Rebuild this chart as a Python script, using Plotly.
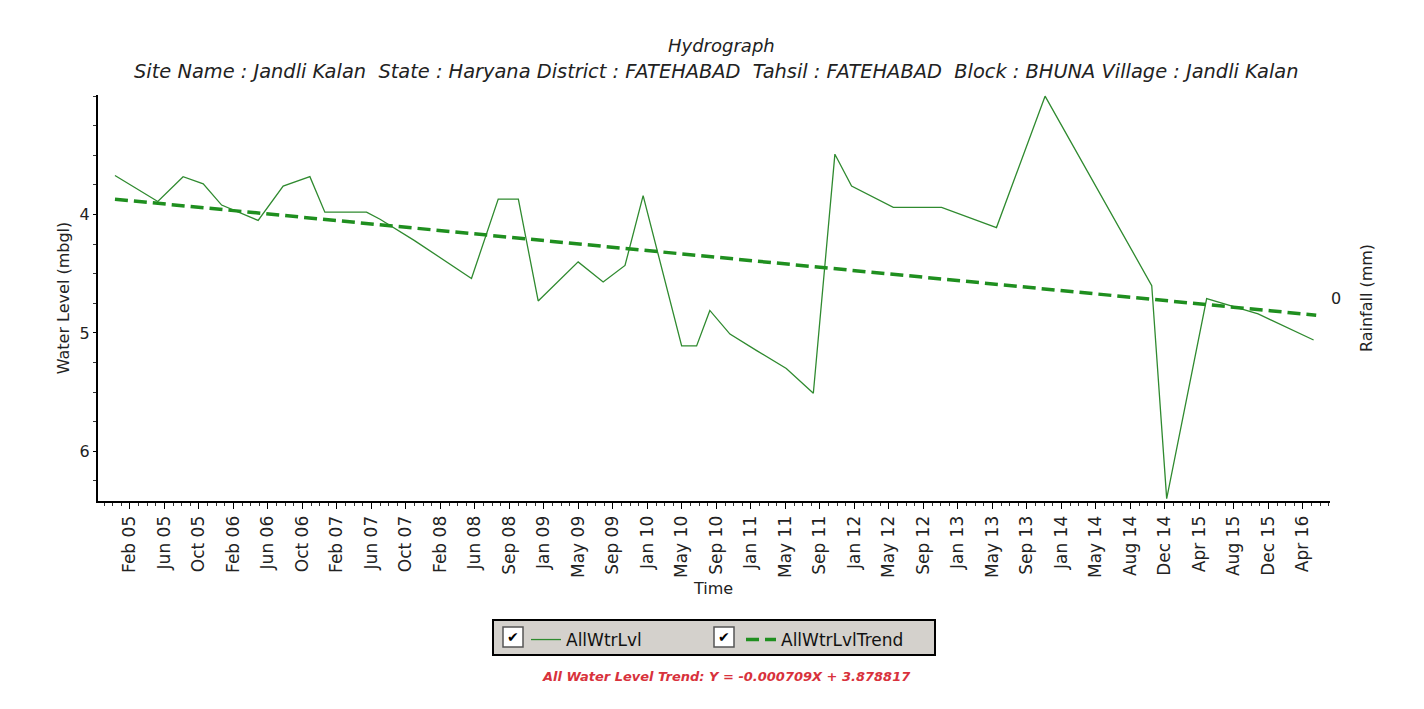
import plotly.graph_objects as go
import pandas as pd

# ---------------- data ----------------
dates = ['2004-12-27', '2005-05-25', '2005-08-21', '2005-10-30', '2006-01-02', '2006-05-09',
         '2006-08-04', '2006-11-05', '2006-12-27', '2007-05-21', '2007-07-07', '2007-11-04',
         '2008-05-20', '2008-08-21', '2008-10-30', '2009-01-07', '2009-05-26', '2009-08-21',
         '2009-11-05', '2010-01-07', '2010-05-21', '2010-07-12', '2010-08-27', '2010-11-05',
         '2011-02-06', '2011-05-20', '2011-08-22', '2011-11-05', '2012-01-02', '2012-03-17',
         '2012-05-26', '2012-08-09', '2012-11-10', '2013-05-20', '2013-11-05', '2014-11-11',
         '2015-01-02', '2015-05-21', '2015-11-16', '2016-05-27']
water_level = [3.67, 3.89, 3.68, 3.74, 3.92, 4.05,
               3.76, 3.68, 3.98, 3.98, 4.04, 4.22,
               4.54, 3.87, 3.87, 4.73, 4.40, 4.57,
               4.43, 3.84, 5.11, 5.11, 4.81, 5.01,
               5.15, 5.30, 5.51, 3.49, 3.76, 3.85,
               3.94, 3.94, 3.94, 4.11, 3.00, 4.60,
               6.40, 4.71, 4.84, 5.06]
trend_dates = ['2004-12-27', '2016-06-05']
trend_values = [3.87, 4.85]

tick_labels = ['Feb 05', 'Jun 05', 'Oct 05', 'Feb 06', 'Jun 06', 'Oct 06', 'Feb 07', 'Jun 07',
               'Oct 07', 'Feb 08', 'Jun 08', 'Sep 08', 'Jan 09', 'May 09', 'Sep 09', 'Jan 10',
               'May 10', 'Sep 10', 'Jan 11', 'May 11', 'Sep 11', 'Jan 12', 'May 12', 'Sep 12',
               'Jan 13', 'May 13', 'Sep 13', 'Jan 14', 'May 14', 'Aug 14', 'Dec 14', 'Apr 15',
               'Aug 15', 'Dec 15', 'Apr 16']
y_ticks = [4, 5, 6]

title_main = 'Hydrograph'
title_sub = ('Site Name : Jandli Kalan  State : Haryana District : FATEHABAD  '
             'Tahsil : FATEHABAD  Block : BHUNA Village : Jandli Kalan')
trend_text = 'All Water Level Trend: Y = -0.000709X + 3.878817'

# ---------------- layout helpers (page coordinates; page body has an 8px margin) ----------------
OFF = 8
W, H = 1424 - 2 * OFF, 709 - 2 * OFF
L, R, T, B = 98, 1330, 95, 501          # plot area in page pixels


def px(x):
    return (x - L) / (R - L)


def py(y):
    return (B - y) / (B - T)


tick0 = pd.Timestamp('2005-02-17')
tick_vals = [(tick0 + pd.Timedelta(days=120 * i)).strftime('%Y-%m-%d') for i in range(len(tick_labels))]

FONT = 'DejaVu Sans, Arial, sans-serif'
GREEN = '#2f8a2f'
TREND = '#1f8f1f'

fig = go.Figure()
fig.add_trace(go.Scatter(x=dates, y=water_level, mode='lines', name='AllWtrLvl',
                         line=dict(color=GREEN, width=1.3)))
fig.add_trace(go.Scatter(x=trend_dates, y=trend_values, mode='lines', name='AllWtrLvlTrend',
                         line=dict(color=TREND, width=3.5, dash='13px,6px')))
# invisible trace to host the right (rainfall) axis
fig.add_trace(go.Scatter(x=[dates[0]], y=[0], yaxis='y2', mode='markers',
                         marker=dict(opacity=0), showlegend=False, hoverinfo='skip'))

shapes = [
    dict(type='rect', xref='paper', yref='paper', x0=px(493), x1=px(935), y0=py(620), y1=py(655),
         fillcolor='#d4d1cc', line=dict(color='black', width=2), layer='below'),
    dict(type='rect', xref='paper', yref='paper', x0=px(503), x1=px(523), y0=py(627), y1=py(647),
         fillcolor='white', line=dict(color='#555555', width=1.5), layer='below'),
    dict(type='rect', xref='paper', yref='paper', x0=px(714), x1=px(734), y0=py(627), y1=py(647),
         fillcolor='white', line=dict(color='#555555', width=1.5), layer='below'),
]

annotations = [
    dict(text='<i>' + title_main + '</i>', x=px(722), y=py(45), xref='paper', yref='paper', showarrow=False,
         font=dict(family='DejaVu Sans', size=18, color='#222'), xanchor='center', yanchor='middle'),
    dict(text='<i>' + title_sub + '</i>', x=px(716), y=py(72), xref='paper', yref='paper', showarrow=False,
         font=dict(family='DejaVu Sans', size=19.4, color='#222'), xanchor='center', yanchor='middle'),
    dict(text='Time', x=px(713), y=py(588), xref='paper', yref='paper', showarrow=False,
         font=dict(family=FONT, size=16, color='#222'), xanchor='center', yanchor='middle'),
    dict(text='<i><b>' + trend_text + '</b></i>', x=px(726), y=py(676), xref='paper', yref='paper',
         showarrow=False, font=dict(family=FONT, size=13, color='#d8323c'),
         xanchor='center', yanchor='middle'),
    dict(text='✔', x=px(513), y=py(637), xref='paper', yref='paper', showarrow=False,
         font=dict(family='DejaVu Sans', size=14, color='black'), xanchor='center', yanchor='middle'),
    dict(text='✔', x=px(724), y=py(637), xref='paper', yref='paper', showarrow=False,
         font=dict(family='DejaVu Sans', size=14, color='black'), xanchor='center', yanchor='middle'),
]

fig.update_layout(
    width=W, height=H,
    margin=dict(l=L - OFF, r=W - (R - OFF), t=T - OFF, b=H - (B - OFF), autoexpand=False),
    paper_bgcolor='white', plot_bgcolor='white',
    font=dict(family=FONT, size=13, color='#222'),
    showlegend=True,
    legend=dict(orientation='h', x=px(526), y=py(622), xanchor='left', yanchor='top',
                bgcolor='rgba(0,0,0,0)', borderwidth=0, entrywidth=170,
                font=dict(family=FONT, size=17, color='#111'), itemwidth=30),
    xaxis=dict(type='date', range=['2004-10-29', '2016-07-23'],
               tickvals=tick_vals, ticktext=tick_labels, tickangle=-90,
               ticks='outside', ticklen=6, tickcolor='black', tickwidth=1,
               minor=dict(tick0='2005-02-17', dtick=30 * 86400000, ticks='outside', ticklen=3,
                          tickcolor='#333'),
               showline=True, linecolor='black', linewidth=2, showgrid=False, zeroline=False,
               tickfont=dict(family=FONT, size=17, color='#222')),
    yaxis=dict(range=[6.42, 2.99], tickvals=y_ticks, ticks='outside', ticklen=3, tickcolor='black',
               minor=dict(dtick=0.25, tick0=0, ticks='outside', ticklen=3, tickcolor='#333'),
               showline=True, linecolor='black', linewidth=2, showgrid=False, zeroline=False,
               title=dict(text='Water Level (mbgl)', font=dict(family=FONT, size=16, color='#222'),
                          standoff=6),
               tickfont=dict(family=FONT, size=16, color='#222')),
    yaxis2=dict(overlaying='y', side='right', range=[-1, 1], tickvals=[0], showline=False,
                showgrid=False, zeroline=False, ticks='',
                title=dict(text='Rainfall (mm)', font=dict(family=FONT, size=16, color='#222'),
                           standoff=20),
                tickfont=dict(family=FONT, size=16, color='#222')),
    shapes=shapes,
    annotations=annotations,
)

fig.write_html('out.html')
